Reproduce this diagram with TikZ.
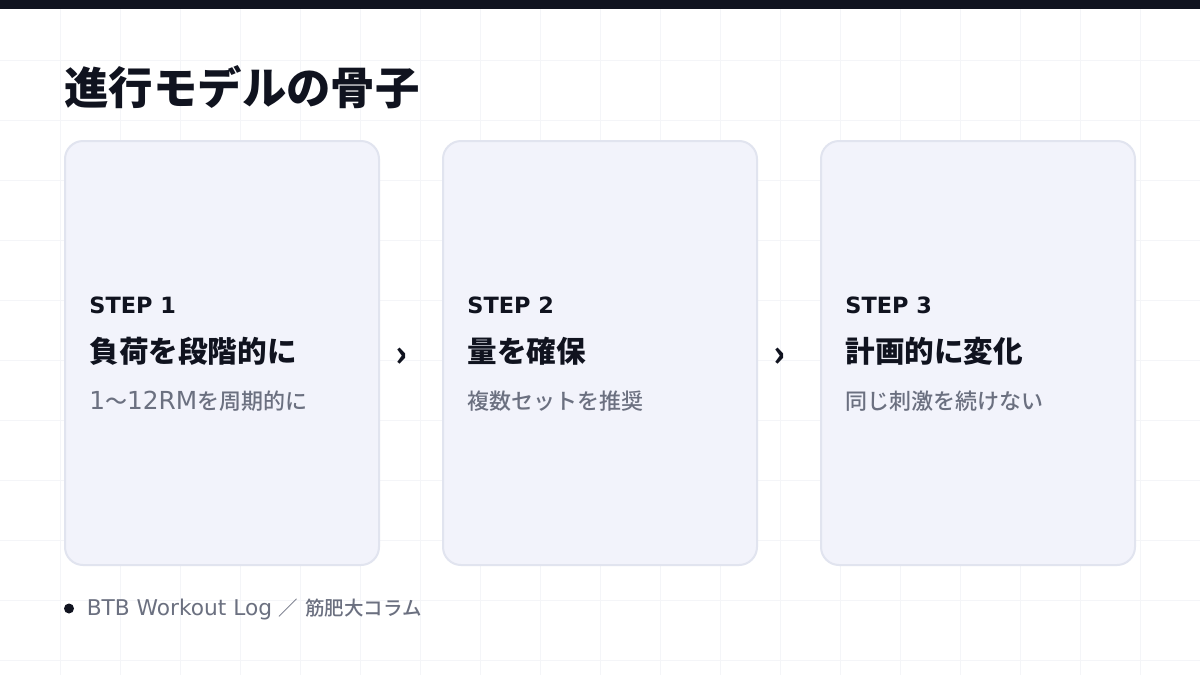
\documentclass[tikz,border=0pt]{standalone}
\usepackage{fontspec}
\usepackage{xcolor}
\usepackage{tikz}
\usetikzlibrary{calc,positioning}
\newfontfamily\jpfont{Noto Sans CJK JP}
\newfontfamily\jpmedium{Noto Sans CJK JP Medium}
\newfontfamily\jpheavy{Noto Sans CJK JP Black}
\newfontfamily\latin{DejaVu Sans}
\definecolor{ink}{HTML}{10131F}
\definecolor{muted}{HTML}{6B7080}
\definecolor{cardfill}{HTML}{F2F3FB}
\definecolor{cardline}{HTML}{E1E4EF}
\definecolor{gridline}{HTML}{F4F5F8}

\begin{document}
\begin{tikzpicture}[x=0.5pt,y=-0.5pt,
			every node/.style={inner sep=0pt,font=\jpfont},
			card/.style={draw=cardline,line width=1pt,fill=cardfill,rounded corners=9pt,
				minimum width=157pt,minimum height=212pt},
			steplabel/.style={anchor=base west,text=ink,font=\latin\bfseries\fontsize{11.2pt}{14pt}\selectfont},
			steptitle/.style={anchor=base west,text=ink,font=\jpheavy\fontsize{14.8pt}{17pt}\selectfont},
			stepnote/.style={anchor=base west,text=muted,font=\jpmedium\fontsize{11pt}{13pt}\selectfont},
			chevron/.style={text=ink,font=\jpheavy\fontsize{18pt}{20pt}\selectfont},
			%grid/.style={draw=gridline,line width=0.5pt},
			footer/.style={anchor=base west,text=muted,font=\jpmedium\fontsize{9.75pt}{12pt}\selectfont}]
		\useasboundingbox (0,0) rectangle (1200,675);
		\fill[white] (0,0) rectangle (1200,675);
		\foreach \gx in {60,120,...,1140}
			\draw[gridline,line width=0.5pt] (\gx,9) -- (\gx,675);
		\foreach \gy in {60,120,...,660}
			\draw[gridline,line width=0.5pt] (0,\gy) -- (1200,\gy);
		\fill[ink] (0,0) rectangle (1200,9);

		\node[anchor=base west,text=ink,font=\jpheavy\fontsize{22.2pt}{26pt}\selectfont] (title) at (64,104) {進行モデルの骨子};

		\node[card] (s1) at (222,353) {};
		\node[card] (s2) at (600,353) {};
		\node[card] (s3) at (978,353) {};

		\node[steplabel] (l1) at ($(s1.north west)+(25,173)$) {STEP 1};
		\node[steptitle] (h1) at ($(s1.north west)+(25,222)$) {負荷を段階的に};
		\node[stepnote] (n1) at ($(s1.north west)+(25,269)$) {{\latin\fontsize{12.4pt}{13pt}\selectfont 1}〜{\latin\fontsize{12.4pt}{13pt}\selectfont 12RM}を周期的に};

		\node[steplabel] (l2) at ($(s2.north west)+(25,173)$) {STEP 2};
		\node[steptitle] (h2) at ($(s2.north west)+(25,222)$) {量を確保};
		\node[stepnote] (n2) at ($(s2.north west)+(25,269)$) {複数セットを推奨};

		\node[steplabel] (l3) at ($(s3.north west)+(25,173)$) {STEP 3};
		\node[steptitle] (h3) at ($(s3.north west)+(25,222)$) {計画的に変化};
		\node[stepnote] (n3) at ($(s3.north west)+(25,269)$) {同じ刺激を続けない};

		\node[chevron] (a1) at ($(s1.east)+(22,4)$) {›};
		\node[chevron] (a2) at ($(s2.east)+(22,4)$) {›};

		\node[circle,fill=ink,minimum size=5pt] (dot) at (69,608.5) {};
		\node[footer] (foot) at ($(dot.east)+(12,6.5)$) {{\latin\fontsize{10.85pt}{12pt}\selectfont BTB Workout Log\ }／{\latin\fontsize{10.85pt}{12pt}\selectfont\ }筋肥大コラム};
\end{tikzpicture}
\end{document}
